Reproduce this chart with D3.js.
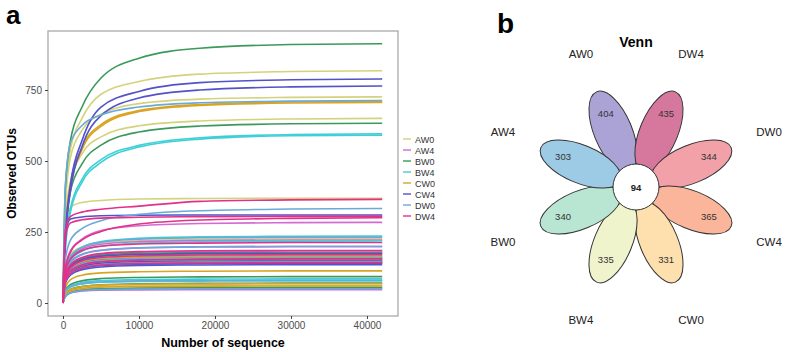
<!DOCTYPE html>
<html>
<head>
<meta charset="utf-8">
<script src="https://cdn.jsdelivr.net/npm/d3@7"></script>
<style>
  body { margin: 0; background: #fff; }
  svg { display: block; font-family: "Liberation Sans", Arial, sans-serif; }
</style>
</head>
<body>
<svg id="chart" width="785" height="352"></svg>
<script>
// ---- data: rarefaction curves (panel a) ----
const groups = ['AW0', 'AW4', 'BW0', 'BW4', 'CW0', 'CW4', 'DW0', 'DW4']
const groupColors = ['#d4d27c', '#d36bd3', '#3a9a5c', '#3fcfd6', '#d9a521', '#5252c9', '#6aaad8', '#e2318a']
const depths = [0, 300, 1000, 2500, 5000, 10000, 18000, 30000, 42000]

const AW0 = [
  [0, 360, 545, 650, 735, 780, 806, 815, 818],
  [0, 340, 515, 608, 665, 702, 718, 724, 726],
  [0, 290, 430, 525, 585, 624, 641, 648, 650],
  [0, 270, 338, 354, 361, 366, 368, 369, 369],
  [0, 125, 172, 197, 211, 220, 224, 226, 226],
  [0, 95, 130, 150, 162, 168, 171, 172, 172],
  [0, 80, 112, 130, 140, 145, 147, 148, 148],
  [0, 35, 48, 55, 59, 61, 62, 62, 62]
]
const AW4 = [
  [0, 125, 185, 225, 255, 272, 280, 283, 284],
  [0, 110, 160, 190, 207, 216, 220, 222, 222],
  [0, 100, 145, 172, 186, 194, 197, 198, 198],
  [0, 92, 132, 158, 172, 179, 182, 183, 183],
  [0, 85, 118, 140, 151, 157, 159, 160, 160],
  [0, 75, 105, 124, 135, 140, 142, 143, 143],
  [0, 30, 40, 46, 50, 51, 52, 52, 52],
  [0, 26, 36, 42, 45, 46, 47, 47, 47]
]
const BW0 = [
  [0, 400, 575, 690, 792, 862, 897, 910, 913],
  [0, 240, 395, 490, 556, 602, 623, 631, 633],
  [0, 92, 130, 155, 168, 175, 177, 178, 178],
  [0, 82, 116, 136, 147, 152, 154, 155, 155],
  [0, 72, 104, 124, 136, 142, 145, 146, 146],
  [0, 45, 65, 78, 86, 90, 92, 93, 93],
  [0, 30, 48, 58, 64, 68, 69, 70, 70],
  [0, 22, 36, 45, 50, 53, 54, 55, 55]
]
const BW4 = [
  [0, 200, 335, 435, 505, 555, 582, 593, 596],
  [0, 185, 322, 425, 495, 549, 577, 589, 591],
  [0, 112, 162, 196, 216, 228, 233, 235, 236],
  [0, 105, 152, 182, 200, 211, 216, 218, 219],
  [0, 85, 120, 142, 155, 161, 164, 165, 165],
  [0, 72, 102, 121, 132, 137, 139, 140, 140],
  [0, 40, 60, 72, 79, 83, 84, 85, 85],
  [0, 38, 56, 67, 73, 76, 77, 78, 78]
]
const CW0 = [
  [0, 240, 425, 548, 628, 678, 699, 708, 710],
  [0, 225, 410, 540, 622, 674, 696, 704, 706],
  [0, 88, 126, 150, 163, 170, 173, 175, 175],
  [0, 84, 120, 143, 155, 161, 164, 165, 165],
  [0, 78, 110, 130, 141, 147, 149, 150, 150],
  [0, 55, 82, 98, 106, 110, 112, 113, 113],
  [0, 32, 48, 58, 63, 66, 67, 68, 68],
  [0, 28, 42, 51, 56, 58, 59, 60, 60]
]
const CW4 = [
  [0, 225, 420, 572, 690, 745, 776, 786, 789],
  [0, 205, 398, 550, 660, 722, 750, 761, 764],
  [0, 255, 296, 303, 307, 309, 310, 310, 310],
  [0, 90, 128, 152, 165, 171, 174, 175, 175],
  [0, 82, 116, 138, 150, 155, 157, 158, 158],
  [0, 76, 108, 128, 140, 145, 147, 148, 148],
  [0, 72, 102, 121, 132, 137, 139, 140, 140],
  [0, 70, 99, 117, 127, 132, 134, 135, 135]
]
const DW0 = [
  [0, 410, 565, 625, 662, 690, 705, 711, 713],
  [0, 150, 222, 262, 290, 312, 325, 331, 333],
  [0, 115, 165, 196, 214, 225, 230, 232, 232],
  [0, 100, 142, 170, 185, 194, 198, 200, 200],
  [0, 82, 116, 138, 150, 156, 159, 160, 160],
  [0, 75, 105, 124, 135, 141, 144, 145, 145],
  [0, 40, 58, 68, 74, 78, 79, 80, 80],
  [0, 25, 36, 43, 47, 49, 50, 50, 50]
]
const DW4 = [
  [0, 255, 305, 320, 330, 341, 358, 363, 365],
  [0, 235, 282, 293, 299, 302, 304, 305, 305],
  [0, 120, 180, 222, 252, 278, 292, 298, 300],
  [0, 108, 155, 185, 200, 208, 211, 213, 213],
  [0, 95, 135, 160, 174, 181, 184, 185, 185],
  [0, 88, 124, 148, 160, 166, 169, 170, 170],
  [0, 80, 113, 134, 145, 151, 154, 155, 155],
  [0, 74, 104, 123, 134, 139, 141, 142, 142]
]
const samplesByGroup = [AW0, AW4, BW0, BW4, CW0, CW4, DW0, DW4]

const xTicks = [0, 10000, 20000, 30000, 40000]
const yTicks = [0, 250, 500, 750]

// ---- data: flower venn (panel b) ----
const vennSets = ['AW0', 'DW4', 'DW0', 'CW4', 'CW0', 'BW4', 'BW0', 'AW4']
const vennCounts = [404, 435, 344, 365, 331, 335, 340, 303]
const vennColors = ['#aba3d6', '#d6789d', '#f2a1a8', '#fbb59b', '#fde0ad', '#eff4cc', '#b8e6d3', '#9dcbe5']
const coreCount = 94

const svg = d3.select('#chart')

// ================= panel a =================
const panel = { left: 48, top: 31, right: 398, bottom: 316 }

const x = d3.scaleLinear().domain([0, 40000]).range([63, 367])
const y = d3.scaleLinear().domain([0, 750]).range([303, 90])

svg.append('text')
  .attr('x', 6).attr('y', 24)
  .style('font-size', '26px').style('font-weight', 'bold')
  .text('a')

svg.append('rect')
  .attr('x', panel.left).attr('y', panel.top)
  .attr('width', panel.right - panel.left)
  .attr('height', panel.bottom - panel.top)
  .attr('fill', '#fff')
  .attr('stroke', '#a9a9a9')
  .attr('stroke-width', 1.3)

const line = d3.line()
  .x((d, i) => x(depths[i]))
  .y(d => y(d))
  .curve(d3.curveMonotoneX)

const curves = svg.append('g')
samplesByGroup.forEach((samples, gi) => {
  curves.selectAll(null)
    .data(samples)
    .enter().append('path')
      .attr('d', line)
      .attr('fill', 'none')
      .attr('stroke', groupColors[gi])
      .attr('stroke-width', 1.6)
})

const yAxis = d3.axisLeft(y).tickValues(yTicks).tickSize(3).tickPadding(3)
svg.append('g')
  .attr('transform', `translate(${panel.left}, 0)`)
  .call(yAxis)
  .call(g => g.select('.domain').remove())
  .call(g => g.selectAll('line').attr('stroke', '#444'))
  .call(g => g.selectAll('text').attr('fill', '#4d4d4d').style('font-size', '10px').style('font-family', 'Liberation Sans, Arial, sans-serif'))

const xAxis = d3.axisBottom(x).tickValues(xTicks).tickFormat(d3.format('d')).tickSize(3).tickPadding(3)
svg.append('g')
  .attr('transform', `translate(0, ${panel.bottom})`)
  .call(xAxis)
  .call(g => g.select('.domain').remove())
  .call(g => g.selectAll('line').attr('stroke', '#444'))
  .call(g => g.selectAll('text').attr('fill', '#4d4d4d').style('font-size', '10px').style('font-family', 'Liberation Sans, Arial, sans-serif'))

svg.append('text')
  .attr('x', (panel.left + panel.right) / 2).attr('y', 347)
  .attr('text-anchor', 'middle')
  .style('font-size', '12.5px').style('font-weight', 'bold')
  .text('Number of sequence')

svg.append('text')
  .attr('transform', `translate(16, ${(panel.top + panel.bottom) / 2}) rotate(-90)`)
  .attr('text-anchor', 'middle')
  .style('font-size', '12px').style('font-weight', 'bold')
  .text('Observed OTUs')

// legend
const legend = svg.append('g').attr('transform', 'translate(403, 139)')
const items = legend.selectAll('g')
  .data(groups)
  .enter().append('g')
    .attr('transform', (d, i) => `translate(0, ${i * 11})`)
items.append('line')
  .attr('x1', 0).attr('x2', 8)
  .attr('stroke', (d, i) => groupColors[i])
  .attr('stroke-width', 1.4)
items.append('text')
  .attr('x', 12).attr('y', 3.5)
  .style('font-size', '9px').attr('fill', '#333')
  .text(d => d)

// ================= panel b =================
const cx = 636, cy = 187

svg.append('text')
  .attr('x', 497).attr('y', 33)
  .style('font-size', '28px').style('font-weight', 'bold')
  .text('b')

svg.append('text')
  .attr('x', cx).attr('y', 47)
  .attr('text-anchor', 'middle')
  .style('font-size', '14px').style('font-weight', 'bold')
  .text('Venn')

// petal direction (degrees, screen coords) for each set
const angle = d3.scaleLinear().domain([0, vennSets.length]).range([-112.5, 247.5])

const petals = svg.append('g').attr('transform', `translate(${cx}, ${cy})`)
const petal = petals.selectAll('g')
  .data(vennSets)
  .enter().append('g')
    .attr('transform', (d, i) => `rotate(${angle(i)})`)
petal.append('ellipse')
  .attr('cx', 60).attr('cy', 0)
  .attr('rx', 43).attr('ry', 19)
  .attr('fill', (d, i) => vennColors[i])
  .attr('stroke', '#333')
  .attr('stroke-width', 1)

const rad = a => a * Math.PI / 180
petals.selectAll('text.count')
  .data(vennCounts)
  .enter().append('text')
    .attr('class', 'count')
    .attr('x', (d, i) => 79 * Math.cos(rad(angle(i))))
    .attr('y', (d, i) => 79 * Math.sin(rad(angle(i))) + 3)
    .attr('text-anchor', 'middle')
    .style('font-size', '9.5px').attr('fill', '#333')
    .text(d => d)

petals.selectAll('text.set')
  .data(vennSets)
  .enter().append('text')
    .attr('class', 'set')
    .attr('x', (d, i) => 144 * Math.cos(rad(angle(i))))
    .attr('y', (d, i) => 144 * Math.sin(rad(angle(i))) + 4)
    .attr('text-anchor', 'middle')
    .style('font-size', '11.5px').attr('fill', '#222')
    .text(d => d)

petals.append('circle')
  .attr('r', 23)
  .attr('fill', '#fff')
  .attr('stroke', '#333')
  .attr('stroke-width', 1)
petals.append('text')
  .attr('y', 3.5)
  .attr('text-anchor', 'middle')
  .style('font-size', '9.5px').style('font-weight', 'bold').attr('fill', '#222')
  .text(coreCount)
</script>
</body>
</html>
